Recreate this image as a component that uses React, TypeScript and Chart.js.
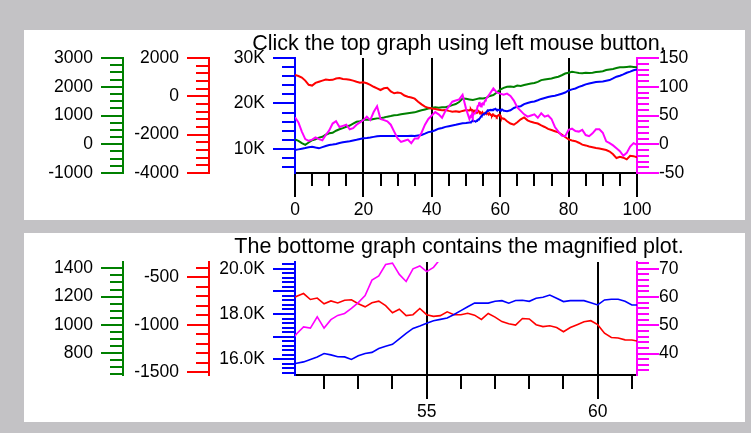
import { useEffect, useRef } from "react";
import { Chart, registerables } from "chart.js";

Chart.register(...registerables);

const FONT = "'Liberation Sans', Arial, sans-serif";

// Sample positions: coarse outside the magnified window, fine inside it.
const xHead = [
  0, 1, 2, 3, 4, 5, 6, 7, 8, 9, 10, 11, 12, 13, 14, 15, 16, 17, 18, 19, 20, 21, 22, 23, 24, 25,
  26, 27, 28, 29, 30, 31, 32, 33, 34, 35, 36, 37, 38, 39, 40, 41, 42, 43, 44, 45, 46, 47, 48, 49, 50,
];
const xZoom = [
  51, 51.2, 51.4, 51.6, 51.8, 52, 52.2, 52.4, 52.6, 52.8, 53, 53.2, 53.4, 53.6, 53.8,
  54, 54.2, 54.4, 54.6, 54.8, 55, 55.2, 55.4, 55.6, 55.8, 56, 56.2, 56.4, 56.6, 56.8,
  57, 57.2, 57.4, 57.6, 57.8, 58, 58.2, 58.4, 58.6, 58.8, 59, 59.2, 59.4, 59.6, 59.8,
  60, 60.2, 60.4, 60.6, 60.8, 61, 61.2,
];
const xTail = [
  62, 63, 64, 65, 66, 67, 68, 69, 70, 71, 72, 73, 74, 75, 76, 77, 78, 79, 80, 81, 82, 83, 84,
  85, 86, 87, 88, 89, 90, 91, 92, 93, 94, 95, 96, 97, 98, 99, 100,
];

// Red trace (red axis)
const redHead = [
  1110, 1060, 980, 820, 600, 560, 700, 760, 820, 880,
  850, 860, 930, 950, 900, 890, 860, 820, 760, 710,
  730, 680, 600, 500, 420, 330, 420, 450, 260, 160,
  200, 170, 40, -20, -60, -120, -280, -420, -540, -600,
  -640, -660, -700, -720, -710, -760, -800, -780, -810, -760,
  -720,
];
const redZoom = [
  -740, -700, -672, -735, -720,
  -780, -750, -772, -742, -738,
  -780, -812, -770, -752, -800,
  -875, -838, -905, -895, -830,
  -895, -912, -905, -865, -895,
  -896, -880, -900, -945, -882,
  -920, -968, -990, -1005, -935,
  -940, -1000, -1020, -1012, -1030,
  -1075, -1030, -1000, -970, -958,
  -1000, -1090, -1135, -1140, -1160,
  -1162, -1175,
];
const redTail = [
  -1300, -1420, -1480, -1350, -1200, -1100, -1250, -1330, -1380, -1420,
  -1520, -1600, -1700, -1760, -1820, -1880, -2000, -2120, -2250, -2300,
  -2340, -2420, -2520, -2560, -2620, -2660, -2700, -2720, -2760, -2800,
  -2880, -3020, -3220, -3150, -3200, -3290, -3100, -3120, -3180,
];

// Green trace (green axis)
const greenHead = [
  170, 120, 40, -20, 60, 140, 170, 230, 260, 330,
  380, 400, 470, 520, 560, 610, 650, 720, 780, 800,
  845, 860, 850, 880, 900, 905, 930, 960, 980, 1010,
  1020, 1040, 1060, 1080, 1095, 1110, 1150, 1180, 1210, 1240,
  1260, 1285, 1270, 1290, 1285, 1320, 1360, 1400, 1470, 1590,
  1580,
];
const greenZoom = [
  1560, null, null, null, null,
  1540, null, null, null, null,
  1570, null, null, null, null,
  1600, null, null, null, null,
  1590, null, null, null, null,
  1620, null, null, null, null,
  1680, null, null, null, null,
  1710, null, null, null, null,
  1800, null, null, null, null,
  1900, null, null, null, null,
  1960, null,
];
const greenTail = [
  2000, 2010, 1990, 2040, 2030, 2060, 2090, 2110, 2130, 2170,
  2230, 2250, 2270, 2290, 2320, 2350, 2400, 2460, 2490, 2520,
  2500, 2480, 2470, 2490, 2480, 2490, 2510, 2525, 2540, 2580,
  2600, 2620, 2650, 2675, 2680, 2690, 2700, 2690, 2680,
];

// Blue trace (blue axis)
const blueHead = [
  9760, 9900, 10050, 10200, 10380, 10490, 10300, 10130, 10400, 10650,
  10860, 10950, 11100, 11300, 11450, 11590, 11700, 11850, 12000, 12200,
  12330, 12400, 12500, 12650, 12780, 12840, 12860, 12820, 12850, 12840,
  12860, 12830, 12850, 12840, 12870, 12840, 12950, 13060, 13350, 13700,
  13850, 14100, 14450, 14620, 14850, 15000, 15150, 15300, 15480, 15620,
  15700,
];
const blueZoom = [
  15800, 15820, 15880, 15990, 16100,
  16250, 16190, 16110, 16100, 15990,
  16150, 16250, 16300, 16470, 16570,
  16660, 16900, 17140, 17360, 17470,
  17590, 17700, 17760, 17820, 17980,
  18150, 18320, 18480, 18480, 18480,
  18560, 18590, 18480, 18600, 18610,
  18560, 18700, 18740, 18840, 18700,
  18550, 18590, 18590, 18590, 18500,
  18400, 18620, 18650, 18650, 18560,
  18400, 18400,
];
const blueTail = [
  18300, 18500, 19000, 19300, 19400, 19850, 20100, 20300, 20450, 20700,
  21000, 21200, 21400, 21600, 21700, 21900, 22150, 22400, 22850, 23100,
  23300, 23650, 23900, 24200, 24400, 24550, 24700, 24780, 24850, 25000,
  25150, 25500, 25880, 26100, 26400, 26750, 27000, 27300, 27500,
];

// Magenta trace (magenta axis)
const pinkHead = [
  47, 38, 22, 9, 6, 8, 12, 9, 7, 16,
  24, 36, 40, 30, 32, 34, 26, 28, 34, 38,
  42, 48, 42, 56, 66, 44, 42, 40, 34, 22,
  10, 4, 6, 8, 2, 10, 10, 20, 34, 44,
  50, 56, 52, 46, 58, 66, 74, 76, 78, 86,
  62,
];
const pinkZoom = [
  44, 47, 49.4, 49, 53,
  49, 52, 53.5, 54.2, 56,
  58, 60.5, 66, 67.5, 71.5,
  72, 68, 65.5, 70, 71,
  69, 70.5, 73.5, 76, 78,
  80, null, null, null, null,
  88, null, null, null, null,
  97, null, null, null, null,
  90, null, null, null, null,
  88, null, null, null, null,
  86, null,
];
const pinkTail = [
  88, 84, 76, 64, 58, 52, 48, 50, 52, 46,
  54, 48, 50, 44, 30, 22, 15, 14, 25, 27,
  23, 22, 25, 16, 14, 19, 26, 26, 20, 5,
  2, -2, -7, -12, -20, -15, -4, 2, -1,
];

// Tick values and labels
const topXTicks = [0, 20, 40, 60, 80, 100];
const topGreenTicks = [-1000, 0, 1000, 2000, 3000];
const topRedTicks = [-4000, -2000, 0, 2000];
const topBlueTicks = [10000, 20000, 30000];
const topBlueLabels = ["10K", "20K", "30K"];
const topPinkTicks = [-50, 0, 50, 100, 150];

const bottomXTicks = [55, 60];
const bottomGreenTicks = [800, 1000, 1200, 1400];
const bottomRedTicks = [-1500, -1000, -500];
const bottomBlueTicks = [16000, 17000, 18000, 19000, 20000];
const bottomBlueLabels = ["16.0K", "", "18.0K", "", "20.0K"];
const bottomPinkTicks = [40, 50, 60, 70];

const topTitle = "Click the top graph using left mouse button,";
const bottomTitle = "The bottome graph contains the magnified plot.";

const GREEN = "#008000";
const RED = "#ff0000";
const BLUE = "#0000ff";
const PINK = "#ff00ff";

const xValues = [...xHead, ...xZoom, ...xTail];

function toPoints(head: (number | null)[], zoom: (number | null)[], tail: (number | null)[]) {
  const ys = [...head, ...zoom, ...tail];
  return xValues.map((x, i) => ({ x, y: ys[i] }));
}

type AxisSpec = {
  id: string;
  position: "left" | "right";
  weight: number;
  min: number;
  max: number;
  ticks: number[];
  labels?: string[];
  color: string;
  minorStep: number;
  minorLength: number;
  width: number;
  padding: number;
};

type PanelSpec = {
  title: string;
  titleBand: number;
  xMin: number;
  xMax: number;
  xTicks: number[];
  xMinorStep: number;
  xMinorLength: number;
  xHeight: number;
  axes: AxisSpec[];
  lineWidth: number;
  height: number;
};

const tickFont = { family: FONT, size: 17.5, weight: "normal" as const };

// Short unlabelled ticks between the labelled ones, placed with each scale's own mapping.
function minorTickPlugin(marks: { axis: string; step: number; length: number; color: string }[]) {
  return {
    id: "minorTicks",
    afterDraw(chart: any) {
      const ctx = chart.ctx as CanvasRenderingContext2D;
      ctx.save();
      ctx.lineWidth = 2;
      for (const m of marks) {
        const s = chart.scales[m.axis];
        if (!s) continue;
        ctx.strokeStyle = m.color;
        const first = Math.ceil(s.min / m.step - 1e-6);
        const last = Math.floor(s.max / m.step + 1e-6);
        ctx.beginPath();
        for (let k = first; k <= last; k++) {
          const p = Math.round(s.getPixelForValue(k * m.step));
          if (s.isHorizontal()) {
            const y0 = s.top + 1;
            ctx.moveTo(p, y0);
            ctx.lineTo(p, y0 + m.length);
          } else if (s.position === "left") {
            const x0 = s.right - 1;
            ctx.moveTo(x0, p);
            ctx.lineTo(x0 - m.length, p);
          } else {
            const x0 = s.left + 1;
            ctx.moveTo(x0, p);
            ctx.lineTo(x0 + m.length, p);
          }
        }
        ctx.stroke();
      }
      ctx.restore();
    },
  };
}

// Caption over the plot, centred on the plot area and allowed to run wider than it.
function captionPlugin(text: string) {
  return {
    id: "caption",
    afterDraw(chart: any) {
      const { ctx, chartArea } = chart;
      ctx.save();
      ctx.font = `normal 21.5px ${FONT}`;
      ctx.fillStyle = "#000";
      ctx.textAlign = "center";
      ctx.textBaseline = "alphabetic";
      ctx.fillText(text, (chartArea.left + chartArea.right) / 2 - 7, 20);
      ctx.restore();
    },
  };
}

function buildConfig(p: PanelSpec): any {
  const scales: any = {
    x: {
      type: "linear",
      position: "bottom",
      min: p.xMin,
      max: p.xMax,
      bounds: "data",
      afterBuildTicks: (s: any) => {
        s.ticks = p.xTicks.map((v) => ({ value: v }));
      },
      afterFit: (s: any) => {
        s.height = p.xHeight;
      },
      ticks: {
        autoSkip: false,
        maxRotation: 0,
        padding: 3,
        color: "#000",
        font: tickFont,
        callback: (v: number) => String(v),
      },
      grid: {
        color: (c: any) =>
          c.tick && (c.tick.value === p.xMin || c.tick.value === p.xMax) ? "rgba(0,0,0,0)" : "#000",
        lineWidth: 2,
        drawOnChartArea: true,
        drawTicks: true,
        tickLength: 24,
        tickColor: "#000",
        tickWidth: 2,
      },
      border: { display: true, color: "#000", width: 2 },
    },
  };

  for (const a of p.axes) {
    scales[a.id] = {
      type: "linear",
      axis: "y",
      position: a.position,
      weight: a.weight,
      min: a.min,
      max: a.max,
      bounds: "data",
      afterBuildTicks: (s: any) => {
        s.ticks = a.ticks.map((v) => ({ value: v }));
      },
      afterFit: (s: any) => {
        s.width = a.width;
      },
      ticks: {
        autoSkip: false,
        padding: a.padding,
        color: "#000",
        font: tickFont,
        callback: (v: number, i: number) => (a.labels ? a.labels[i] : String(v)),
      },
      grid: {
        drawOnChartArea: false,
        drawTicks: true,
        tickLength: 22,
        tickColor: a.color,
        tickWidth: 2,
        lineWidth: 2,
        color: a.color,
      },
      border: { display: true, color: a.color, width: 2 },
    };
  }

  const marks = [
    { axis: "x", step: p.xMinorStep, length: p.xMinorLength, color: "#000" },
    ...p.axes.map((a) => ({ axis: a.id, step: a.minorStep, length: a.minorLength, color: a.color })),
  ];

  const line = (data: any, yAxisID: string, color: string) => ({
    data,
    yAxisID,
    borderColor: color,
    backgroundColor: color,
    borderWidth: p.lineWidth,
    pointRadius: 0,
    tension: 0,
    spanGaps: true,
    fill: false,
  });

  return {
    type: "line",
    data: {
      datasets: [
        line(toPoints(pinkHead, pinkZoom, pinkTail), "yPink", PINK),
        line(toPoints(blueHead, blueZoom, blueTail), "yBlue", BLUE),
        line(toPoints(redHead, redZoom, redTail), "yRed", RED),
        line(toPoints(greenHead, greenZoom, greenTail), "yGreen", GREEN),
      ],
    },
    options: {
      responsive: false,
      animation: false,
      events: [],
      layout: { padding: { left: 13, right: 28, top: p.titleBand, bottom: 0 } },
      plugins: {
        legend: { display: false },
        tooltip: { enabled: false },
        title: { display: false },
      },
      scales,
    },
    plugins: [minorTickPlugin(marks), captionPlugin(p.title)],
  };
}

const topPanel: PanelSpec = {
  title: topTitle,
  titleBand: 28,
  xMin: 0,
  xMax: 100,
  xTicks: topXTicks,
  xMinorStep: 5,
  xMinorLength: 12,
  xHeight: 47,
  lineWidth: 2,
  height: 190,
  axes: [
    { id: "yGreen", position: "left", weight: 3, min: -1000, max: 3000, ticks: topGreenTicks, color: GREEN, minorStep: 250, minorLength: 12, width: 86, padding: 8 },
    { id: "yRed", position: "left", weight: 2, min: -4000, max: 2000, ticks: topRedTicks, color: RED, minorStep: 400, minorLength: 12, width: 86, padding: 8 },
    { id: "yBlue", position: "left", weight: 1, min: 4700, max: 30000, ticks: topBlueTicks, labels: topBlueLabels, color: BLUE, minorStep: 2000, minorLength: 12, width: 86, padding: 8 },
    { id: "yPink", position: "right", weight: 1, min: -50, max: 150, ticks: topPinkTicks, color: PINK, minorStep: 10, minorLength: 11, width: 80, padding: 0 },
  ],
};

const bottomPanel: PanelSpec = {
  title: bottomTitle,
  titleBand: 29,
  xMin: 51.15,
  xMax: 61.15,
  xTicks: bottomXTicks,
  xMinorStep: 1,
  xMinorLength: 13,
  xHeight: 47,
  lineWidth: 1.6,
  height: 189,
  axes: [
    { id: "yGreen", position: "left", weight: 3, min: 645, max: 1445, ticks: bottomGreenTicks, color: GREEN, minorStep: 50, minorLength: 12, width: 86, padding: 8 },
    { id: "yRed", position: "left", weight: 2, min: -1530, max: -340, ticks: bottomRedTicks, color: RED, minorStep: 100, minorLength: 12, width: 86, padding: 8 },
    { id: "yBlue", position: "left", weight: 1, min: 15300, max: 20300, ticks: bottomBlueTicks, labels: bottomBlueLabels, color: BLUE, minorStep: 200, minorLength: 12, width: 86, padding: 8 },
    { id: "yPink", position: "right", weight: 1, min: 32.4, max: 72.4, ticks: bottomPinkTicks, color: PINK, minorStep: 2, minorLength: 11, width: 80, padding: 0 },
  ],
};

function GraphPanel({ spec, top }: { spec: PanelSpec; top: number }) {
  const ref = useRef<HTMLCanvasElement>(null);
  useEffect(() => {
    if (!ref.current) return;
    const chart = new Chart(ref.current, buildConfig(spec));
    return () => chart.destroy();
  }, [spec]);
  return (
    <div
      style={{
        position: "absolute",
        left: 24,
        top,
        width: 721,
        height: spec.height,
        background: "#ffffff",
      }}
    >
      <canvas ref={ref} width={721} height={spec.height} style={{ display: "block" }} />
    </div>
  );
}

export default function App() {
  return (
    <div
      style={{
        position: "absolute",
        left: 0,
        top: 0,
        width: 751,
        height: 433,
        background: "rgb(195,194,197)",
        overflow: "hidden",
      }}
    >
      <GraphPanel spec={topPanel} top={30} />
      <GraphPanel spec={bottomPanel} top={233} />
    </div>
  );
}
